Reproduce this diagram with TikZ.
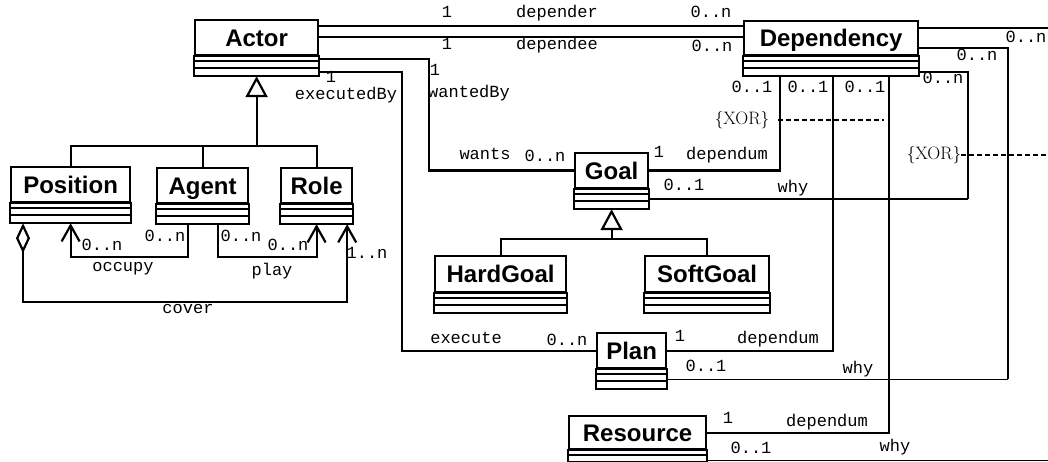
\documentclass[tikz,border=0pt]{standalone}
\usepackage{fontspec}
\setmonofont{Liberation Mono}
\newfontfamily\clsfont{Liberation Sans}
\usetikzlibrary{arrows.meta}

\tikzset{
  clsname/.style={draw, line width=2.2pt, inner sep=0pt, text height=17pt, text depth=0pt,
    font=\clsfont\bfseries\fontsize{24}{24}\selectfont},
  clsbody/.style={line width=2pt},
  assoc/.style={line width=2.2pt},
  thinassoc/.style={line width=1.4pt},
  lbl/.style={inner sep=0pt, text height=9pt, text depth=3pt, font=\ttfamily\fontsize{17}{17}\selectfont},
  xorlbl/.style={inner sep=0pt, font=\fontsize{18}{18}\selectfont},
  xorline/.style={line width=1.5pt, dash pattern=on 5pt off 3pt},
  gen/.style={line width=2.2pt, -{Triangle[open, length=21pt, width=22pt]}},
  nav/.style={line width=2.2pt, -{Straight Barb[length=16pt, width=18pt]}},
}

\begin{document}
\begin{tikzpicture}[x=1pt, y=-1pt]
  \useasboundingbox (0,0) rectangle (1048,462);
  \fill[white] (0,0) rectangle (1048,462);
  \clip (0,0) rectangle (1048,462);

  % classes
  \foreach \n/\t/\x/\y/\w/\h in {actor/Actor/194/19/123/35, dependency/Dependency/743/20/174/34,
      position/Position/10/166/119/35, agent/Agent/156/167/91/35, role/Role/280/167/71/35,
      goal/Goal/574/152/73/35, hardgoal/HardGoal/434/255/131/36, softgoal/SoftGoal/644/255/124/36,
      plan/Plan/596/332/69/35, resource/Resource/568/415/137/33}{
    \node[clsname, minimum width=\w, minimum height=\h, anchor=north west] (\n) at (\x,\y) {\t};
    \draw[clsbody] (\n.south west) rectangle ([yshift=-20]\n.south east)
      ([yshift=-4.5]\n.south west) -- ([yshift=-4.5]\n.south east)
      ([yshift=-12]\n.south west) -- ([yshift=-12]\n.south east);
    \coordinate (\n-bot) at ([yshift=-20]\n.south);
    \coordinate (\n-bl) at ([yshift=-20]\n.south west);
    \coordinate (\n-br) at ([yshift=-20]\n.south east);
  }

  % depender / dependee
  \draw[thinassoc] (actor.east |- 0,26) -- (dependency.west |- 0,26);
  \draw[thinassoc] (actor.east |- 0,37) -- (dependency.west |- 0,37);

  % wants, execute
  \draw[assoc] ([yshift=-3]actor.south east) -- ++(110,0) |- (goal.west);
  \draw[assoc] ([yshift=-16]actor.south east) -- ++(83,0) |- (plan.west);

  % dependum
  \draw[assoc] (goal.east) -| ([xshift=-51]dependency-bot);
  \draw[assoc] (plan.east) -| ([xshift=2]dependency-bot);
  \draw[assoc] (resource.east) -| ([xshift=58]dependency-bot);

  % why
  \draw[thinassoc] ([yshift=-10]goal.south east) -- ++(319,0) coordinate (goalwhy);
  \draw[assoc] (goalwhy) |- ([yshift=-16]dependency.south east);
  \draw[thinassoc] ([yshift=-10]plan.south east) -- ++(341,0) coordinate (planwhy);
  \draw[assoc] (planwhy) |- ([yshift=-10]dependency.east);
  \draw[thinassoc] ([yshift=-10]resource.south east) -- ++(360,0) coordinate (reswhy);
  \draw[assoc] (reswhy) |- ([yshift=-8]dependency.north east);

  % xor constraints
  \node[xorlbl] (xor1) at (742,120) {$\{$XOR$\}$};
  \draw[xorline] ([xshift=9]xor1.east) -- ++(106,0);
  \node[xorlbl] (xor2) at (934,155) {$\{$XOR$\}$};
  \draw[xorline] (xor2.east) -- ++(100,0);

  % generalizations
  \coordinate (actorfork) at ([yshift=-70]actor-bot);
  \draw[assoc] (position.north) |- (actorfork) -| (role.north);
  \draw[assoc] (agent.north) -- (agent.north |- actorfork);
  \draw[gen] (actorfork) -- (actor-bot);
  \coordinate (goalfork) at ([yshift=-30]goal-bot);
  \draw[assoc] (hardgoal.north) |- (goalfork) -| (softgoal.north);
  \draw[gen] (goalfork) -- (goal-bot);

  % occupy, play, cover
  \draw[nav] ([xshift=-15]agent-bot) -- ++(0,33) -| (position-bot);
  \draw[nav] ([xshift=15]agent-bot) -- ++(0,33) -| (role-bot);
  \draw[assoc, {Diamond[open, length=30pt, width=14pt]}-{Straight Barb[length=16pt, width=18pt]}]
    ([xshift=13]position-bl) -- ++(0,79) -| ([xshift=-6]role-br);

  % role names and multiplicities
  \foreach \t/\x/\y [count=\i] in {1/447/15, depender/557/15, 0..n/711/15, 1/447/47, dependee/557/47,
      0..n/712/49, 1/331/80, executedBy/346/97, 1/435/73, wantedBy/469/95, wants/485/157,
      0..n/545/159, 1/659/155, dependum/727/157, 0..1/684/188, why/793/190, 0..1/752/90,
      0..1/808/90, 0..1/865/90, 0..n/943/81, 0..n/977/58, 0..n/1026/40, execute/466/340,
      0..n/567/342, 1/680/338, dependum/778/340, 0..1/706/368, why/858/370, 1/728/420,
      dependum/827/423, 0..1/751/450, why/895/448, 0..n/102/247, 0..n/165/238, 0..n/241/238,
      0..n/288/247, occupy/123/268, play/272/272, 1..n/367/255, cover/188/310}
    \node[lbl] (lbl\i) at (\x,\y) {\t};
\end{tikzpicture}
\end{document}
